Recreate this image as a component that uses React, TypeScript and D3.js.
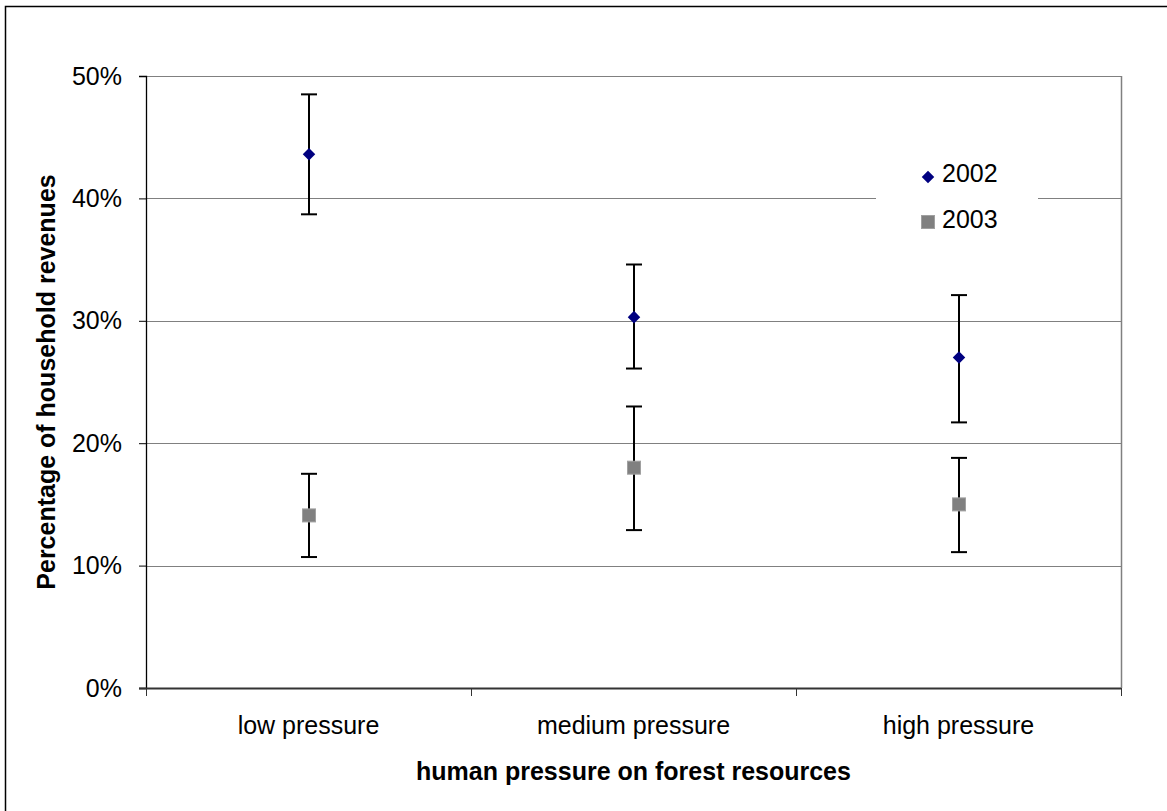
import * as d3 from "d3";
import React, { useEffect, useRef } from "react";

// categories and values (in %)
const categories = ["low pressure", "medium pressure", "high pressure"];
const years = ["2002", "2003"];
const mean2002 = [43.6, 30.3, 27.0];
const upper2002 = [48.5, 34.6, 32.1];
const lower2002 = [38.7, 26.1, 21.7];
const mean2003 = [14.1, 18.0, 15.0];
const upper2003 = [17.5, 23.0, 18.8];
const lower2003 = [10.7, 12.9, 11.1];
const yTicks = [0, 10, 20, 30, 40, 50];

function App() {
  const ref = useRef<HTMLDivElement>(null);

  useEffect(() => {
    const width = 1167;
    const height = 811;
    const margin = { top: 76, right: 46, bottom: 123, left: 146 };
    const innerW = width - margin.left - margin.right;
    const innerH = height - margin.top - margin.bottom;
    const font = "'Liberation Sans', Arial, sans-serif";
    const fs = 25;
    const sq = 13; // square marker size

    d3.select(ref.current).selectAll("svg").remove();

    const svg = d3
      .select(ref.current)
      .append("svg")
      .attr("width", width)
      .attr("height", height)
      .style("display", "block")
      .style("background", "#fff");

    // outer chart frame (only left/top edges fall inside the picture)
    svg
      .append("rect")
      .attr("x", 5.5)
      .attr("y", 6.5)
      .attr("width", width + 20)
      .attr("height", height + 20)
      .attr("fill", "none")
      .attr("stroke", "#000")
      .attr("stroke-width", 1.5);

    const x = d3.scaleBand().domain(categories).range([0, innerW]);
    const y = d3.scaleLinear().domain([0, 50]).range([innerH, 0]);

    const g = svg
      .append("g")
      .attr("transform", `translate(${margin.left},${margin.top})`);

    // gridlines
    g.append("g")
      .selectAll("line")
      .data(yTicks.filter((t) => t > 0))
      .enter()
      .append("line")
      .attr("x1", 0)
      .attr("x2", innerW)
      .attr("y1", (d) => Math.round(y(d)) + 0.5)
      .attr("y2", (d) => Math.round(y(d)) + 0.5)
      .attr("stroke", "#808080")
      .attr("stroke-width", 1);

    // right edge of plot area
    g.append("line")
      .attr("x1", innerW + 0.5)
      .attr("x2", innerW + 0.5)
      .attr("y1", 0)
      .attr("y2", innerH)
      .attr("stroke", "#808080")
      .attr("stroke-width", 1.5);

    // y axis
    const yAxis = d3
      .axisLeft(y)
      .tickValues(yTicks)
      .tickSize(7)
      .tickPadding(17)
      .tickFormat((d) => `${d}%`);
    const ya = g.append("g").call(yAxis);
    ya.select(".domain").attr("stroke", "#000").attr("stroke-width", 1.3);
    ya.selectAll(".tick line").attr("stroke", "#000");
    ya.selectAll("text")
      .attr("font-family", font)
      .attr("font-size", fs)
      .attr("fill", "#000");

    // x axis
    const xa = g.append("g").attr("transform", `translate(0,${innerH})`);
    xa.append("line")
      .attr("x1", -7)
      .attr("x2", innerW)
      .attr("y1", 0.5)
      .attr("y2", 0.5)
      .attr("stroke", "#333")
      .attr("stroke-width", 2);
    const xTickPos = categories.map((c) => x(c) as number).concat([innerW]);
    xa.selectAll("line.tk")
      .data(xTickPos)
      .enter()
      .append("line")
      .attr("class", "tk")
      .attr("x1", (d) => d + 0.5)
      .attr("x2", (d) => d + 0.5)
      .attr("y1", 0)
      .attr("y2", 8)
      .attr("stroke", "#333")
      .attr("stroke-width", 1);
    xa.selectAll("text")
      .data(categories)
      .enter()
      .append("text")
      .attr("x", (d) => (x(d) as number) + x.bandwidth() / 2)
      .attr("y", 46)
      .attr("text-anchor", "middle")
      .attr("font-family", font)
      .attr("font-size", fs)
      .text((d) => d);

    // axis titles
    svg
      .append("text")
      .attr("x", margin.left + innerW / 2)
      .attr("y", 780)
      .attr("text-anchor", "middle")
      .attr("font-family", font)
      .attr("font-size", fs)
      .attr("font-weight", "bold")
      .text("human pressure on forest resources");

    svg
      .append("text")
      .attr("transform", `translate(55,${margin.top + innerH / 2}) rotate(-90)`)
      .attr("text-anchor", "middle")
      .attr("font-family", font)
      .attr("font-size", fs)
      .attr("font-weight", "bold")
      .text("Percentage of household revenues");

    // error bars and points
    const cx = (i: number) => (x(categories[i]) as number) + x.bandwidth() / 2;
    const series = [
      { mean: mean2002, hi: upper2002, lo: lower2002 },
      { mean: mean2003, hi: upper2003, lo: lower2003 },
    ];
    const bars = g.append("g");
    series.forEach((s) => {
      s.mean.forEach((_, i) => {
        const xx = Math.round(cx(i));
        bars
          .append("line")
          .attr("x1", xx)
          .attr("x2", xx)
          .attr("y1", y(s.hi[i]))
          .attr("y2", y(s.lo[i]))
          .attr("stroke", "#000")
          .attr("stroke-width", 2);
        [s.hi[i], s.lo[i]].forEach((v) => {
          bars
            .append("line")
            .attr("x1", xx - 8)
            .attr("x2", xx + 8)
            .attr("y1", y(v))
            .attr("y2", y(v))
            .attr("stroke", "#000")
            .attr("stroke-width", 2);
        });
      });
    });

    const diamond = d3.symbol().type(d3.symbolDiamond2).size(100);
    g.append("g")
      .selectAll("path")
      .data(mean2002)
      .enter()
      .append("path")
      .attr("d", diamond)
      .attr("transform", (d, i) => `translate(${Math.round(cx(i))},${y(d)})`)
      .attr("fill", "#000080");

    g.append("g")
      .selectAll("rect")
      .data(mean2003)
      .enter()
      .append("rect")
      .attr("x", (d, i) => Math.round(cx(i)) - sq / 2)
      .attr("y", (d) => y(d) - sq / 2)
      .attr("width", sq)
      .attr("height", sq)
      .attr("fill", "#808080")
      .attr("stroke", "#a0a0a0")
      .attr("stroke-width", 1);

    // legend
    const lg = svg.append("g").attr("transform", "translate(876,150)");
    lg.append("rect")
      .attr("width", 162)
      .attr("height", 96)
      .attr("fill", "#fff");
    lg.append("path")
      .attr("d", diamond)
      .attr("transform", "translate(52,27)")
      .attr("fill", "#000080");
    lg.append("rect")
      .attr("x", 52 - sq / 2)
      .attr("y", 72 - sq / 2)
      .attr("width", sq)
      .attr("height", sq)
      .attr("fill", "#808080")
      .attr("stroke", "#a0a0a0");
    lg.selectAll("text")
      .data(years)
      .enter()
      .append("text")
      .attr("x", 66)
      .attr("y", (d, i) => 32 + i * 46)
      .attr("font-family", font)
      .attr("font-size", fs)
      .text((d) => d);
  }, []);

  return (
    <div
      style={{ position: "absolute", left: 0, top: 0, width: 1167, height: 811, overflow: "hidden" }}
      ref={ref}
    />
  );
}

export default App;
